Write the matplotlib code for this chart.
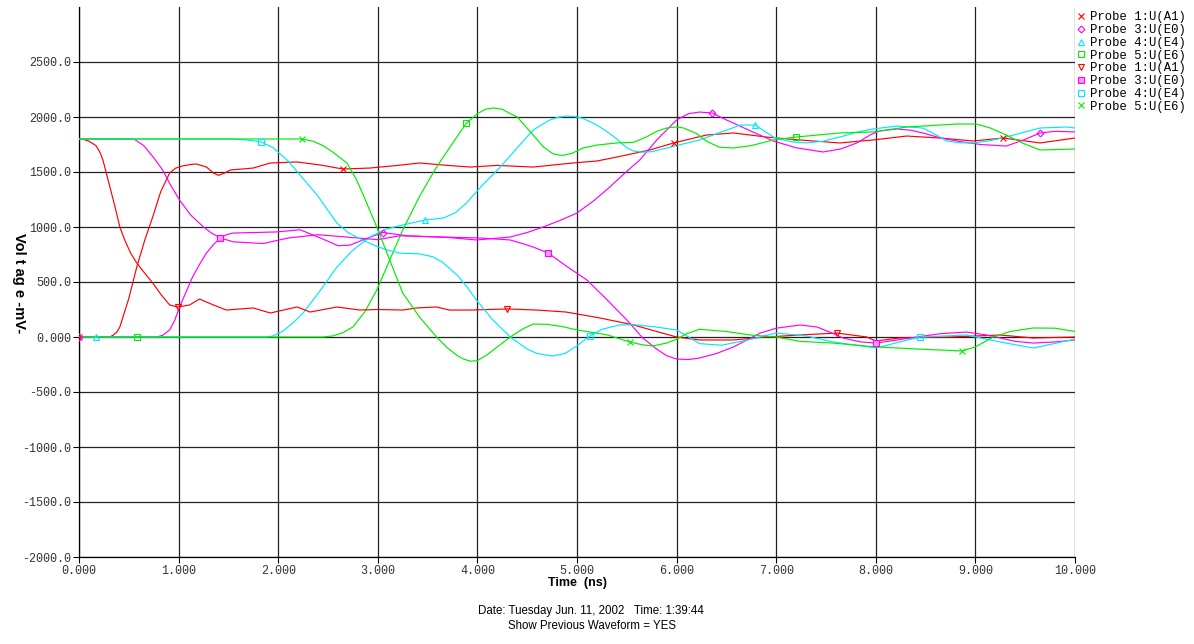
import matplotlib
matplotlib.use("Agg")
import matplotlib.pyplot as plt
import numpy as np

# ---------------- data ----------------
# Probe 1:U(A1)  (current, red, x)
a1_t = [0, 0.31, 0.34, 0.38, 0.41, 0.5, 0.58, 0.66, 0.74, 0.82, 0.91, 0.97, 1.04, 1.12, 1.18, 1.28,
        1.35, 1.4, 1.46, 1.52, 1.75, 1.92, 2.19, 2.42, 2.65, 2.92, 3.2, 3.42, 3.7, 3.93, 4.2, 4.56,
        4.96, 5.2, 5.4, 5.73, 5.97, 6.3, 6.57, 6.9, 7.24, 7.64, 7.97, 8.31, 8.64, 8.98, 9.28, 9.65, 10]
a1_v = [0, 0, 15, 45, 91, 350, 636, 880, 1091, 1320, 1491, 1535, 1555, 1568, 1573, 1545,
        1490, 1470, 1490, 1518, 1536, 1582, 1591, 1564, 1527, 1536, 1560, 1582, 1560, 1545, 1560, 1545,
        1582, 1600, 1636, 1700, 1764, 1836, 1855, 1818, 1791, 1764, 1791, 1827, 1809, 1782, 1809, 1764, 1809]
a1_mk = [0, 2.65, 5.97, 9.28]

# Probe 3:U(E0)  (current, magenta, diamond)
e0_t = [0, 0.78, 0.84, 0.91, 0.96, 1.01, 1.08, 1.14, 1.21, 1.28, 1.35, 1.42, 1.48, 1.55, 1.98, 2.22,
        2.45, 2.6, 2.72, 2.9, 3.05, 3.3, 3.7, 3.99, 4.33, 4.5, 4.66, 4.83, 5.0, 5.17, 5.33, 5.48,
        5.63, 5.8, 6.0, 6.12, 6.23, 6.36, 6.46, 6.57, 6.75, 6.97, 7.2, 7.47, 7.65, 7.81, 7.95, 8.04,
        8.21, 8.35, 8.47, 8.65, 8.81, 9.05, 9.31, 9.48, 9.65, 9.8, 10]
e0_v = [0, 0, 15, 64, 150, 273, 420, 545, 660, 764, 840, 900, 930, 945, 955, 975,
        890, 830, 835, 900, 950, 920, 905, 882, 909, 950, 1000, 1060, 1127, 1240, 1364, 1490,
        1609, 1790, 1973, 2030, 2045, 2036, 1990, 1945, 1870, 1782, 1720, 1682, 1710, 1764, 1840, 1873,
        1891, 1880, 1855, 1810, 1782, 1750, 1736, 1790, 1855, 1870, 1864]
e0_mk = [0, 3.05, 6.36, 9.65]

# Probe 4:U(E4)  (current, cyan, triangle)
e4_t = [0, 1.89, 1.95, 2.05, 2.15, 2.25, 2.42, 2.59, 2.75, 2.92, 3.08, 3.25, 3.47, 3.66, 3.78, 3.89,
        4.05, 4.23, 4.4, 4.56, 4.72, 4.8, 4.89, 4.97, 5.05, 5.15, 5.23, 5.32, 5.4, 5.5, 5.57, 5.65,
        5.75, 5.9, 6.23, 6.5, 6.64, 6.79, 6.97, 7.15, 7.31, 7.47, 7.64, 7.8, 7.97, 8.21, 8.47, 8.6,
        8.71, 8.85, 8.98, 9.15, 9.31, 9.48, 9.65, 9.92, 10]
e4_v = [0, 0, 10, 55, 130, 218, 420, 636, 790, 909, 980, 1018, 1063, 1082, 1130, 1218,
        1380, 1545, 1720, 1882, 1970, 1995, 2009, 2005, 1990, 1950, 1909, 1855, 1800, 1720, 1690, 1680,
        1685, 1718, 1791, 1880, 1927, 1927, 1818, 1775, 1764, 1780, 1818, 1860, 1891, 1918, 1900, 1840,
        1782, 1765, 1764, 1785, 1818, 1860, 1900, 1909, 1900]
e4_mk = [0.17, 3.47, 6.79]

# Probe 5:U(E6)  (current, green, square)
e6_t = [0, 2.45, 2.55, 2.65, 2.75, 2.87, 2.99, 3.12, 3.25, 3.42, 3.59, 3.75, 3.89, 4.0, 4.08, 4.16,
        4.25, 4.33, 4.4, 4.56, 4.66, 4.76, 4.85, 4.95, 5.06, 5.2, 5.4, 5.57, 5.7, 5.8, 5.9, 6.0,
        6.07, 6.2, 6.3, 6.43, 6.57, 6.75, 6.97, 7.2, 7.64, 7.97, 8.31, 8.81, 9.01, 9.15, 9.31, 9.48,
        9.65, 10]
e6_v = [0, 0, 10, 40, 91, 230, 427, 700, 973, 1280, 1545, 1760, 1945, 2030, 2070, 2082,
        2070, 2030, 2000, 1836, 1730, 1665, 1650, 1670, 1718, 1745, 1764, 1770, 1820, 1870, 1900, 1910,
        1900, 1850, 1780, 1725, 1718, 1740, 1791, 1818, 1855, 1864, 1909, 1936, 1936, 1900, 1836, 1760,
        1700, 1709]
e6_mk = [0.58, 3.89, 7.2]

# Probe 1:U(A1)  (previous, red, triangle down)
pa1_t = [0, 0.05, 0.1, 0.17, 0.21, 0.24, 0.3, 0.36, 0.41, 0.46, 0.52, 0.58, 0.66, 0.74, 0.82, 0.91,
         0.99, 1.11, 1.21, 1.35, 1.48, 1.75, 1.92, 2.19, 2.32, 2.59, 2.82, 3.0, 3.25, 3.39, 3.59, 3.72,
         3.93, 4.3, 4.6, 4.89, 5.23, 5.57, 5.8, 6.0, 6.23, 6.57, 6.9, 7.24, 7.61, 7.91, 8.0, 8.24,
         8.74, 9.25, 9.58, 10]
pa1_v = [1800, 1795, 1780, 1740, 1680, 1609, 1400, 1190, 1000, 880, 760, 673, 580, 491, 390, 291,
         273, 291, 345, 291, 245, 264, 218, 273, 227, 273, 245, 250, 245, 264, 273, 245,
         245, 255, 245, 227, 173, 109, 50, 0, -27, -27, 0, 18, 36, 0, -36, -9,
         0, 18, -9, 0]
pa1_mk = [0.99, 4.3, 7.61]

# Probe 3:U(E0)  (previous, magenta, filled square)
pe0_t = [0, 0.52, 0.56, 0.65, 0.75, 0.84, 0.92, 1.01, 1.12, 1.25, 1.33, 1.42, 1.55, 1.85, 2.1, 2.4,
         2.8, 3.0, 3.22, 3.6, 4.03, 4.33, 4.45, 4.56, 4.71, 4.9, 5.1, 5.3, 5.5, 5.66, 5.8, 5.9,
         6.0, 6.12, 6.23, 6.4, 6.57, 6.7, 6.84, 7.0, 7.24, 7.41, 7.55, 7.67, 7.85, 8.0, 8.2, 8.41,
         8.65, 8.91, 9.1, 9.25, 9.4, 9.58, 9.8, 10]
pe0_v = [1800, 1800, 1795, 1740, 1630, 1518, 1380, 1245, 1110, 1000, 945, 900, 865, 850, 900, 930,
         900, 885, 920, 910, 900, 882, 850, 818, 764, 640, 518, 340, 155, -9, -110, -170,
         -200, -205, -191, -150, -91, -30, 36, 80, 109, 91, 40, -9, -45, -55, -30, 0,
         30, 45, 20, -9, -40, -55, -45, -27]
pe0_mk = [1.42, 4.71, 8.0]

# Probe 4:U(E4)  (previous, cyan, square)
pe4_t = [0, 1.55, 1.7, 1.83, 1.95, 2.1, 2.25, 2.4, 2.5, 2.59, 2.7, 2.85, 3.0, 3.1, 3.22, 3.42,
         3.55, 3.65, 3.8, 3.9, 3.99, 4.15, 4.33, 4.5, 4.6, 4.75, 4.88, 5.0, 5.13, 5.25, 5.43, 5.6,
         5.8, 6.0, 6.12, 6.23, 6.45, 6.7, 7.0, 7.3, 7.57, 8.0, 8.44, 8.91, 9.25, 9.58, 10]
pe4_v = [1800, 1800, 1790, 1773, 1720, 1600, 1440, 1280, 1150, 1036, 950, 880, 820, 790, 763, 755,
         730, 680, 560, 450, 336, 160, 0, -110, -150, -173, -150, -80, 10, 70, 110, 110,
         90, 64, 0, -60, -75, -30, 36, 10, -45, -100, 0, 18, -45, -100, -20]
pe4_mk = [1.83, 5.13, 8.44]

# Probe 5:U(E6)  (previous, green, x)
pe6_t = [0, 2.24, 2.35, 2.45, 2.55, 2.62, 2.69, 2.78, 2.85, 2.92, 2.99, 3.12, 3.25, 3.42, 3.59, 3.7,
         3.8, 3.86, 3.93, 4.0, 4.1, 4.2, 4.33, 4.45, 4.56, 4.7, 4.85, 5.0, 5.3, 5.53, 5.65, 5.76,
         5.9, 6.0, 6.1, 6.23, 6.5, 6.74, 7.0, 7.24, 7.57, 8.0, 8.41, 8.87, 9.0, 9.18, 9.35, 9.58,
         9.8, 10]
pe6_v = [1800, 1800, 1780, 1740, 1680, 1630, 1582, 1440, 1300, 1150, 1000, 700, 400, 180, 0, -100,
         -170, -200, -220, -215, -160, -90, 0, 70, 118, 115, 95, 64, 20, -45, -70, -82,
         -55, -20, 30, 70, 50, 18, 0, -40, -55, -90, -109, -127, -90, 0, 50, 82,
         80, 50]
pe6_mk = [2.24, 5.53, 8.87]

labels = ["Probe 1:U(A1)", "Probe 3:U(E0)", "Probe 4:U(E4)", "Probe 5:U(E6)",
          "Probe 1:U(A1)", "Probe 3:U(E0)", "Probe 4:U(E4)", "Probe 5:U(E6)"]

x_ticks = [0, 1, 2, 3, 4, 5, 6, 7, 8, 9, 10]
x_tick_labels = ["0.000", "1.000", "2.000", "3.000", "4.000", "5.000",
                 "6.000", "7.000", "8.000", "9.000", "10.000"]
y_ticks = [-2000, -1500, -1000, -500, 0, 500, 1000, 1500, 2000, 2500]
y_tick_labels = ["-2000.0", "-1500.0", "-1000.0", "-500.0", "0.000",
                 "500.0", "1000.0", "1500.0", "2000.0", "2500.0"]

# ---------------- styling ----------------
RED, MAG, CYA, GRN = "#ff0000", "#ff00ff", "#00e8ff", "#00ee00"
series = [
    (a1_t, a1_v, a1_mk, RED, dict(marker="x", mfc="none")),
    (e0_t, e0_v, e0_mk, MAG, dict(marker="D", mfc="none", markersize=3.5)),
    (e4_t, e4_v, e4_mk, CYA, dict(marker="^", mfc="none")),
    (e6_t, e6_v, e6_mk, GRN, dict(marker="s", mfc="none")),
    (pa1_t, pa1_v, pa1_mk, RED, dict(marker="v", mfc="none")),
    (pe0_t, pe0_v, pe0_mk, MAG, dict(marker="s", mfc="#ff99ff")),
    (pe4_t, pe4_v, pe4_mk, CYA, dict(marker="s", mfc="none")),
    (pe6_t, pe6_v, pe6_mk, GRN, dict(marker="x", mfc="none")),
]

mono = "Liberation Mono"
fig = plt.figure(figsize=(11.94, 6.44), dpi=100)
ax = fig.add_axes([79 / 1194, 1 - 557 / 644, (1075 - 79) / 1194, (557 - 7) / 644])

handles = []
for (t, v, mk, col, mst), lab in zip(series, labels):
    ax.plot(t, v, color=col, lw=0.85, zorder=3)
    mv = np.interp(mk, t, v)
    ms = mst.pop("markersize", 4.5)
    ax.plot(mk, mv, linestyle="none", color=col, markeredgecolor=col,
            markersize=ms, mew=0.8, zorder=4, **mst)
    h, = ax.plot([], [], linestyle="none", color=col, markeredgecolor=col,
                 markersize=ms, mew=0.8, label=lab, **mst)
    handles.append(h)

ax.set_xlim(0, 10)
ax.set_ylim(-2000, 3000)
ax.set_xticks(x_ticks)
ax.set_xticklabels(x_tick_labels, fontfamily=mono, fontsize=8.5, color="#333333")
ax.set_yticks(y_ticks)
ax.set_yticklabels(y_tick_labels, fontfamily=mono, fontsize=8.5, color="#333333")
ax.tick_params(axis="both", length=4, width=0.8, color="black", pad=1.5)
ax.grid(True, color="#222222", lw=0.9, zorder=1)
for s in ("top", "right"):
    ax.spines[s].set_visible(False)
for s in ("left", "bottom"):
    ax.spines[s].set_linewidth(0.9)

fig.text(19 / 1194, 1 - 283 / 644, "Vol t ag e -mV-", rotation=270, ha="center", va="center",
         fontsize=10.5, fontweight="bold", family="Liberation Sans")
fig.text(577 / 1194, 1 - 583 / 644, "Time  (ns)", ha="center", va="center",
         fontsize=9, fontweight="bold", family="Liberation Sans")
fig.text(591 / 1194, 1 - 611 / 644, "Date: Tuesday Jun. 11, 2002   Time: 1:39:44",
         ha="center", va="center", fontsize=8.3, family="Liberation Sans")
fig.text(592 / 1194, 1 - 626 / 644, "Show Previous Waveform = YES",
         ha="center", va="center", fontsize=8.3, family="Liberation Sans")

fig.legend(handles=handles, loc="upper left", bbox_to_anchor=(1074 / 1194, 1 - 9 / 644),
           frameon=False, prop={"family": mono, "size": 8.8}, handlelength=0.8,
           handletextpad=0.3, labelspacing=0.06, borderaxespad=0, borderpad=0.2)

fig.savefig("out.png", dpi=100, facecolor="white")
